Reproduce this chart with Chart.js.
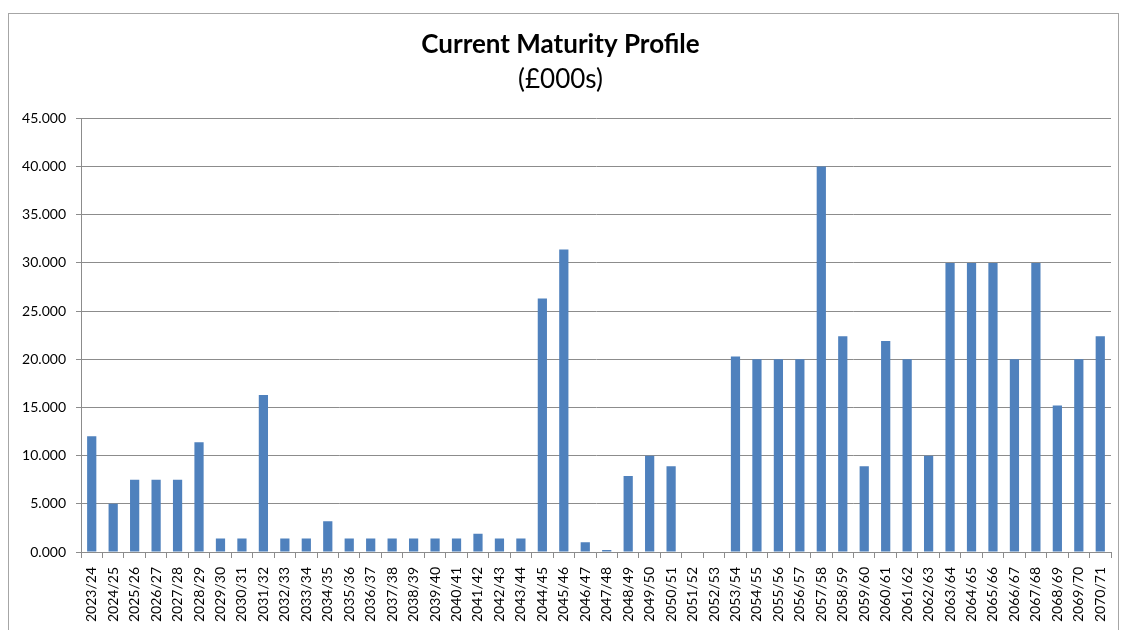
<!DOCTYPE html>
<html>
<head>
<meta charset="utf-8">
<script src="https://cdn.jsdelivr.net/npm/chart.js@4/dist/chart.umd.min.js"></script>
<style>
  html, body { margin: 0; padding: 0; background: #ffffff; }
  #wrap { position: relative; width: 1122px; height: 630px; }
</style>
</head>
<body>
<div id="wrap"><canvas id="c" width="1122" height="630"></canvas></div>
<script>
const categories = [
  "2023/24","2024/25","2025/26","2026/27","2027/28","2028/29","2029/30","2030/31",
  "2031/32","2032/33","2033/34","2034/35","2035/36","2036/37","2037/38","2038/39",
  "2039/40","2040/41","2041/42","2042/43","2043/44","2044/45","2045/46","2046/47",
  "2047/48","2048/49","2049/50","2050/51","2051/52","2052/53","2053/54","2054/55",
  "2055/56","2056/57","2057/58","2058/59","2059/60","2060/61","2061/62","2062/63",
  "2063/64","2064/65","2065/66","2066/67","2067/68","2068/69","2069/70","2070/71"
];
const maturityValues = [
  12.0, 5.0, 7.5, 7.5, 7.5, 11.4, 1.4, 1.4,
  16.3, 1.4, 1.4, 3.2, 1.4, 1.4, 1.4, 1.4,
  1.4, 1.4, 1.9, 1.4, 1.4, 26.3, 31.4, 1.0,
  0.2, 7.9, 10.0, 8.9, 0, 0, 20.3, 20.0,
  20.0, 20.0, 40.0, 22.4, 8.9, 21.9, 20.0, 10.0,
  30.0, 30.0, 30.0, 20.0, 30.0, 15.2, 20.0, 22.4
];
const yTicks = [0, 5, 10, 15, 20, 25, 30, 35, 40, 45];
const titleText = "Current Maturity Profile";
const subtitleText = "(£000s)";

const FONT = "Lato, 'Open Sans', 'Liberation Sans', sans-serif";

const borderPlugin = {
  id: 'outerBorder',
  beforeDraw(chart) {
    const ctx = chart.ctx;
    ctx.save();
    ctx.fillStyle = '#ffffff';
    ctx.fillRect(0, 0, chart.width, chart.height);
    ctx.strokeStyle = '#a6a6a6';
    ctx.lineWidth = 1;
    ctx.strokeRect(8.5, 13.5, 1110, 700);
    ctx.restore();
  }
};

new Chart(document.getElementById('c'), {
  type: 'bar',
  data: {
    labels: categories,
    datasets: [{
      data: maturityValues,
      backgroundColor: '#4f81bd',
      borderWidth: 0,
      categoryPercentage: 1.0,
      barPercentage: 0.43
    }]
  },
  options: {
    responsive: false,
    animation: false,
    devicePixelRatio: 1,
    layout: { padding: { left: 10, right: 11, top: 20, bottom: 0 } },
    plugins: {
      legend: { display: false },
      tooltip: { enabled: false },
      title: {
        display: true,
        text: titleText,
        color: '#000000',
        font: { family: FONT, size: 26, weight: 'bold' },
        padding: { top: 9, bottom: 0 }
      },
      subtitle: {
        display: true,
        text: subtitleText,
        color: '#000000',
        font: { family: FONT, size: 26, weight: 'normal' },
        padding: { top: 4, bottom: 23 }
      }
    },
    scales: {
      x: {
        offset: true,
        grid: {
          display: true,
          offset: true,
          drawOnChartArea: false,
          drawTicks: true,
          tickLength: 6,
          color: '#8c8c8c'
        },
        border: { display: true, color: '#8c8c8c', width: 1 },
        ticks: {
          color: '#000000',
          font: { family: FONT, size: 14 },
          maxRotation: 90,
          minRotation: 90,
          autoSkip: false,
          padding: 9
        },
        afterFit(scale) {
          scale.height = 78;
          scale.paddingRight = 0;
          scale.paddingLeft = 0;
        }
      },
      y: {
        min: 0,
        max: 45,
        afterBuildTicks(scale) { scale.ticks = yTicks.map(v => ({ value: v })); },
        grid: {
          color: '#8c8c8c',
          drawTicks: true,
          tickLength: 5,
          lineWidth: 1
        },
        border: { display: true, color: '#8c8c8c', width: 1 },
        ticks: {
          color: '#000000',
          font: { family: FONT, size: 14 },
          padding: 10,
          callback: v => Number(v).toFixed(3)
        },
        afterFit(scale) { scale.width = 71; }
      }
    }
  },
  plugins: [borderPlugin]
});
</script>
</body>
</html>
